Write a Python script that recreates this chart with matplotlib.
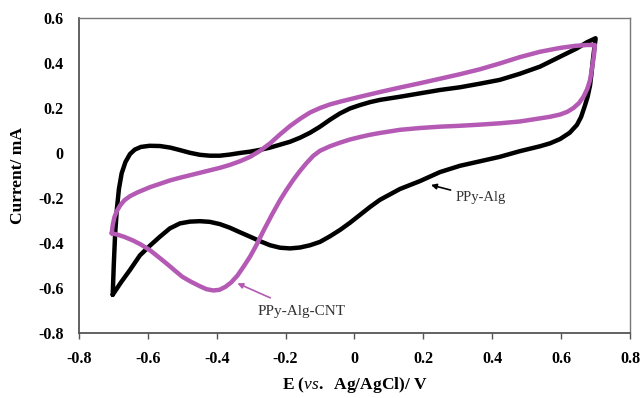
import numpy as np
import matplotlib
matplotlib.use('Agg')
import matplotlib.pyplot as plt

# PPy-Alg cyclic voltammogram (forward then reverse scan)
alg_fwd_e = [-0.702, -0.699, -0.695, -0.690, -0.684, -0.676, -0.665, -0.652, -0.638, -0.620,
             -0.595, -0.565, -0.535, -0.507, -0.478, -0.449, -0.420, -0.391, -0.362, -0.333,
             -0.303, -0.274, -0.245, -0.216, -0.187, -0.158, -0.129, -0.100, -0.071, -0.042,
             -0.013, 0.016, 0.045, 0.074, 0.103, 0.132, 0.190, 0.248, 0.306, 0.364,
             0.422, 0.480, 0.539, 0.597, 0.646, 0.675, 0.700]
alg_fwd_i = [-0.630, -0.500, -0.360, -0.250, -0.160, -0.090, -0.040, -0.005, 0.015, 0.027,
             0.032, 0.031, 0.024, 0.013, 0.001, -0.008, -0.012, -0.012, -0.007, 0.000,
             0.006, 0.014, 0.024, 0.037, 0.050, 0.068, 0.090, 0.117, 0.148, 0.176,
             0.198, 0.213, 0.226, 0.236, 0.243, 0.250, 0.265, 0.280, 0.292, 0.308,
             0.325, 0.352, 0.384, 0.428, 0.465, 0.492, 0.510]
alg_rev_e = [0.700, 0.696, 0.692, 0.688, 0.684, 0.677, 0.669, 0.658, 0.646, 0.625,
             0.597, 0.568, 0.539, 0.480, 0.422, 0.364, 0.306, 0.248, 0.190, 0.132,
             0.074, 0.045, 0.016, -0.013, -0.042, -0.071, -0.100, -0.129, -0.158, -0.187,
             -0.216, -0.245, -0.274, -0.303, -0.333, -0.362, -0.391, -0.420, -0.449, -0.478,
             -0.507, -0.536, -0.565, -0.594, -0.623, -0.652, -0.678, -0.702]
alg_rev_i = [0.505, 0.460, 0.410, 0.350, 0.300, 0.250, 0.210, 0.160, 0.125, 0.090,
             0.062, 0.043, 0.030, 0.008, -0.017, -0.037, -0.057, -0.085, -0.125, -0.160,
             -0.208, -0.240, -0.275, -0.310, -0.342, -0.370, -0.395, -0.410, -0.420, -0.424,
             -0.421, -0.410, -0.392, -0.372, -0.352, -0.332, -0.316, -0.306, -0.303, -0.305,
             -0.313, -0.335, -0.372, -0.412, -0.455, -0.520, -0.575, -0.630]

# PPy-Alg-CNT
cnt_fwd_e = [-0.705, -0.702, -0.697, -0.690, -0.680, -0.668, -0.652, -0.630, -0.594, -0.565,
             -0.536, -0.507, -0.478, -0.449, -0.420, -0.391, -0.362, -0.333, -0.303, -0.274,
             -0.245, -0.216, -0.187, -0.158, -0.129, -0.100, -0.071, -0.042, 0.016, 0.074,
             0.132, 0.190, 0.248, 0.306, 0.364, 0.422, 0.480, 0.539, 0.597, 0.640,
             0.675, 0.698]
cnt_fwd_i = [-0.357, -0.320, -0.285, -0.258, -0.232, -0.210, -0.192, -0.175, -0.152, -0.137,
             -0.122, -0.110, -0.099, -0.088, -0.077, -0.066, -0.053, -0.037, -0.017, 0.010,
             0.043, 0.083, 0.120, 0.152, 0.180, 0.200, 0.216, 0.228, 0.250, 0.271,
             0.291, 0.310, 0.330, 0.350, 0.372, 0.398, 0.426, 0.450, 0.467, 0.476,
             0.480, 0.480]
cnt_rev_e = [0.698, 0.696, 0.692, 0.688, 0.684, 0.676, 0.665, 0.652, 0.636, 0.618,
             0.597, 0.568, 0.539, 0.480, 0.422, 0.364, 0.306, 0.248, 0.190, 0.132,
             0.074, 0.045, 0.016, -0.013, -0.042, -0.071, -0.100, -0.120, -0.140, -0.160,
             -0.178, -0.197, -0.216, -0.240, -0.264, -0.285, -0.303, -0.322, -0.340, -0.358,
             -0.375, -0.392, -0.410, -0.430, -0.449, -0.475, -0.500, -0.522, -0.545, -0.570,
             -0.594, -0.620, -0.643, -0.668, -0.690, -0.705]
cnt_rev_i = [0.478, 0.440, 0.399, 0.360, 0.324, 0.285, 0.250, 0.222, 0.200, 0.183,
             0.171, 0.161, 0.154, 0.140, 0.132, 0.126, 0.121, 0.117, 0.111, 0.103,
             0.089, 0.081, 0.071, 0.060, 0.046, 0.030, 0.010, -0.013, -0.046, -0.083,
             -0.120, -0.163, -0.209, -0.275, -0.345, -0.410, -0.460, -0.505, -0.545, -0.575,
             -0.595, -0.608, -0.611, -0.605, -0.592, -0.572, -0.550, -0.522, -0.492, -0.461,
             -0.432, -0.407, -0.389, -0.373, -0.362, -0.357]

x_ticks = [-0.8, -0.6, -0.4, -0.2, 0, 0.2, 0.4, 0.6, 0.8]
y_ticks = [-0.8, -0.6, -0.4, -0.2, 0, 0.2, 0.4, 0.6]

plt.rcParams['font.family'] = 'Liberation Serif'
plt.rcParams['mathtext.fontset'] = 'custom'
plt.rcParams['mathtext.it'] = 'Liberation Serif:italic'
plt.rcParams['mathtext.rm'] = 'Liberation Serif:bold'

magenta = '#b45ab4'

fig = plt.figure(figsize=(6.41, 3.98), dpi=100)
ax = fig.add_axes([0.1232, 0.1633, 0.8596, 0.7915])

ax.plot(alg_fwd_e + alg_rev_e, alg_fwd_i + alg_rev_i, color='black', lw=3.2,
        solid_joinstyle='round', solid_capstyle='round')
ax.plot(cnt_fwd_e + cnt_rev_e, cnt_fwd_i + cnt_rev_i, color=magenta, lw=3.2,
        solid_joinstyle='round', solid_capstyle='round')

ax.set_xlim(-0.8, 0.8)
ax.set_ylim(-0.8, 0.6)
ax.set_xticks(x_ticks)
ax.set_yticks(y_ticks)
ax.set_xticklabels(['%g' % v for v in x_ticks], fontweight='bold', fontsize=11.5)
ax.set_yticklabels(['%g' % v for v in y_ticks], fontweight='bold', fontsize=11.5)
ax.tick_params(axis='x', direction='out', length=4, width=1, color='#555555', pad=9)
ax.tick_params(axis='y', length=0, pad=11)

for side in ['left', 'bottom']:
    ax.spines[side].set_color('#555555')
    ax.spines[side].set_linewidth(1.3)
for side in ['top', 'right']:
    ax.spines[side].set_color('#777777')
    ax.spines[side].set_linewidth(1.0)

ax.set_ylabel('Current/ mA', fontweight='bold', fontsize=12.5, labelpad=9)
ax.set_xlabel(r'E ($vs.$  Ag/AgCl)/ V', fontweight='bold', fontsize=12.5, labelpad=6)

ax.annotate('PPy-Alg', xy=(0.222, -0.142), xytext=(0.295, -0.2),
            fontsize=10.5, color='#333333', va='center', ha='left',
            arrowprops=dict(arrowstyle='-|>', color='black', lw=1.2,
                            shrinkA=2, shrinkB=0, mutation_scale=8))
ax.annotate('PPy-Alg-CNT', xy=(-0.340, -0.579), xytext=(-0.282, -0.705),
            fontsize=11, color='#333333', va='center', ha='left',
            arrowprops=dict(arrowstyle='-|>', color=magenta, lw=1.2,
                            shrinkA=8, shrinkB=0, mutation_scale=8))

fig.savefig('out.png', dpi=100)
